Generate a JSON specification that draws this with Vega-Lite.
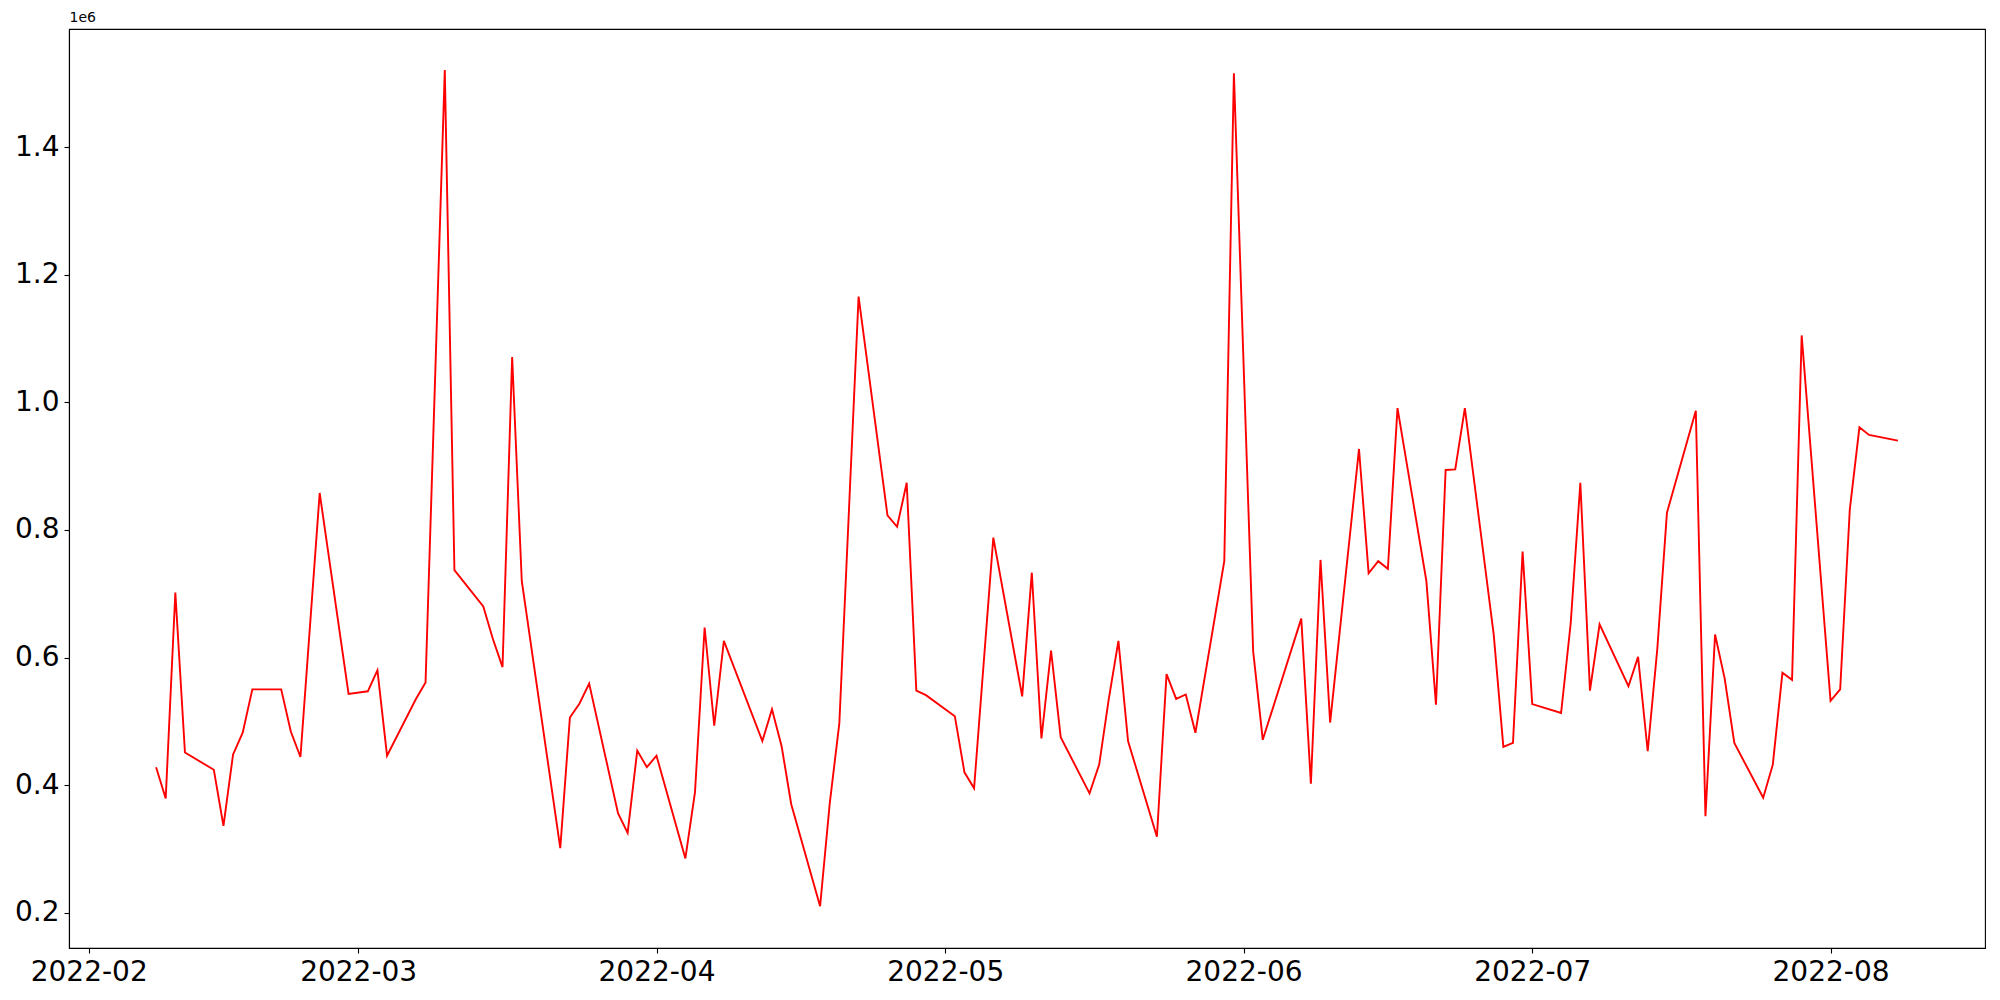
{
  "$schema": "https://vega.github.io/schema/vega-lite/v6.json",
  "width": 1916,
  "height": 919,
  "autosize": {"type": "none"},
  "padding": {"left": 69, "top": 29, "right": 15, "bottom": 52},
  "background": "white",
  "config": {
    "view": {"stroke": "black", "strokeWidth": 1.1},
    "font": "DejaVu Sans",
    "axis": {
      "grid": false,
      "domainColor": "black",
      "domainWidth": 1.1,
      "tickColor": "black",
      "tickWidth": 1.1,
      "tickSize": 5,
      "labelPadding": 5,
      "labelColor": "black",
      "labelFont": "DejaVu Sans",
      "labelFontSize": 28
    }
  },
  "data": {
    "values": [
      {"date": "2022-02-08", "value": 428000},
      {"date": "2022-02-09", "value": 379000},
      {"date": "2022-02-10", "value": 702000},
      {"date": "2022-02-11", "value": 451000},
      {"date": "2022-02-14", "value": 424000},
      {"date": "2022-02-15", "value": 336000},
      {"date": "2022-02-16", "value": 448000},
      {"date": "2022-02-17", "value": 482000},
      {"date": "2022-02-18", "value": 550000},
      {"date": "2022-02-21", "value": 550000},
      {"date": "2022-02-22", "value": 484000},
      {"date": "2022-02-23", "value": 444000},
      {"date": "2022-02-25", "value": 858000},
      {"date": "2022-02-28", "value": 543000},
      {"date": "2022-03-02", "value": 547000},
      {"date": "2022-03-03", "value": 580000},
      {"date": "2022-03-04", "value": 446000},
      {"date": "2022-03-07", "value": 535000},
      {"date": "2022-03-08", "value": 561000},
      {"date": "2022-03-10", "value": 1521000},
      {"date": "2022-03-11", "value": 737000},
      {"date": "2022-03-14", "value": 680000},
      {"date": "2022-03-15", "value": 629000},
      {"date": "2022-03-16", "value": 585000},
      {"date": "2022-03-17", "value": 1071000},
      {"date": "2022-03-18", "value": 720000},
      {"date": "2022-03-22", "value": 301000},
      {"date": "2022-03-23", "value": 506000},
      {"date": "2022-03-24", "value": 528000},
      {"date": "2022-03-25", "value": 559000},
      {"date": "2022-03-28", "value": 356000},
      {"date": "2022-03-29", "value": 325000},
      {"date": "2022-03-30", "value": 454000},
      {"date": "2022-03-31", "value": 428000},
      {"date": "2022-04-01", "value": 446000},
      {"date": "2022-04-04", "value": 285000},
      {"date": "2022-04-05", "value": 389000},
      {"date": "2022-04-06", "value": 647000},
      {"date": "2022-04-07", "value": 493000},
      {"date": "2022-04-08", "value": 626000},
      {"date": "2022-04-12", "value": 469000},
      {"date": "2022-04-13", "value": 519000},
      {"date": "2022-04-14", "value": 461000},
      {"date": "2022-04-15", "value": 370000},
      {"date": "2022-04-18", "value": 210000},
      {"date": "2022-04-19", "value": 371000},
      {"date": "2022-04-20", "value": 497000},
      {"date": "2022-04-22", "value": 1166000},
      {"date": "2022-04-25", "value": 823000},
      {"date": "2022-04-26", "value": 805000},
      {"date": "2022-04-27", "value": 874000},
      {"date": "2022-04-28", "value": 548000},
      {"date": "2022-04-29", "value": 541000},
      {"date": "2022-05-02", "value": 508000},
      {"date": "2022-05-03", "value": 420000},
      {"date": "2022-05-04", "value": 395000},
      {"date": "2022-05-06", "value": 788000},
      {"date": "2022-05-09", "value": 539000},
      {"date": "2022-05-10", "value": 733000},
      {"date": "2022-05-11", "value": 473000},
      {"date": "2022-05-12", "value": 611000},
      {"date": "2022-05-13", "value": 475000},
      {"date": "2022-05-16", "value": 387000},
      {"date": "2022-05-17", "value": 432000},
      {"date": "2022-05-18", "value": 535000},
      {"date": "2022-05-19", "value": 626000},
      {"date": "2022-05-20", "value": 469000},
      {"date": "2022-05-23", "value": 319000},
      {"date": "2022-05-24", "value": 574000},
      {"date": "2022-05-25", "value": 535000},
      {"date": "2022-05-26", "value": 542000},
      {"date": "2022-05-27", "value": 482000},
      {"date": "2022-05-30", "value": 751000},
      {"date": "2022-05-31", "value": 1516000},
      {"date": "2022-06-02", "value": 610000},
      {"date": "2022-06-03", "value": 471000},
      {"date": "2022-06-07", "value": 661000},
      {"date": "2022-06-08", "value": 402000},
      {"date": "2022-06-09", "value": 753000},
      {"date": "2022-06-10", "value": 498000},
      {"date": "2022-06-13", "value": 927000},
      {"date": "2022-06-14", "value": 732000},
      {"date": "2022-06-15", "value": 751000},
      {"date": "2022-06-16", "value": 739000},
      {"date": "2022-06-17", "value": 991000},
      {"date": "2022-06-20", "value": 720000},
      {"date": "2022-06-21", "value": 526000},
      {"date": "2022-06-22", "value": 894000},
      {"date": "2022-06-23", "value": 895000},
      {"date": "2022-06-24", "value": 991000},
      {"date": "2022-06-27", "value": 636000},
      {"date": "2022-06-28", "value": 460000},
      {"date": "2022-06-29", "value": 466000},
      {"date": "2022-06-30", "value": 766000},
      {"date": "2022-07-01", "value": 527000},
      {"date": "2022-07-04", "value": 513000},
      {"date": "2022-07-05", "value": 654000},
      {"date": "2022-07-06", "value": 874000},
      {"date": "2022-07-07", "value": 548000},
      {"date": "2022-07-08", "value": 652000},
      {"date": "2022-07-11", "value": 555000},
      {"date": "2022-07-12", "value": 601000},
      {"date": "2022-07-13", "value": 453000},
      {"date": "2022-07-14", "value": 614000},
      {"date": "2022-07-15", "value": 827000},
      {"date": "2022-07-18", "value": 987000},
      {"date": "2022-07-19", "value": 351000},
      {"date": "2022-07-20", "value": 636000},
      {"date": "2022-07-21", "value": 567000},
      {"date": "2022-07-22", "value": 466000},
      {"date": "2022-07-25", "value": 380000},
      {"date": "2022-07-26", "value": 432000},
      {"date": "2022-07-27", "value": 576000},
      {"date": "2022-07-28", "value": 565000},
      {"date": "2022-07-29", "value": 1105000},
      {"date": "2022-08-01", "value": 532000},
      {"date": "2022-08-02", "value": 550000},
      {"date": "2022-08-03", "value": 832000},
      {"date": "2022-08-04", "value": 961000},
      {"date": "2022-08-05", "value": 949000},
      {"date": "2022-08-08", "value": 940000}
    ]
  },
  "mark": {"type": "line", "color": "red", "strokeWidth": 1.9},
  "encoding": {
    "x": {
      "field": "date",
      "type": "temporal",
      "scale": {
        "type": "utc",
        "domain": [
          {"year": 2022, "month": 1, "date": 29, "hours": 22, "minutes": 48, "utc": true},
          {"year": 2022, "month": 8, "date": 17, "hours": 1, "minutes": 12, "utc": true}
        ],
        "nice": false
      },
      "axis": {
        "title": null,
        "labelExpr": "utcFormat(datum.value, '%Y-%m')",
        "labelAngle": 0,
        "labelAlign": "center",
        "labelBaseline": "top",
        "values": [
          {"year": 2022, "month": 2, "date": 1, "utc": true},
          {"year": 2022, "month": 3, "date": 1, "utc": true},
          {"year": 2022, "month": 4, "date": 1, "utc": true},
          {"year": 2022, "month": 5, "date": 1, "utc": true},
          {"year": 2022, "month": 6, "date": 1, "utc": true},
          {"year": 2022, "month": 7, "date": 1, "utc": true},
          {"year": 2022, "month": 8, "date": 1, "utc": true}
        ]
      }
    },
    "y": {
      "field": "value",
      "type": "quantitative",
      "scale": {"domain": [144500, 1585500], "nice": false, "zero": false},
      "axis": {
        "title": "1e6",
        "titleAngle": 0,
        "titleAlign": "left",
        "titleBaseline": "bottom",
        "titleX": 0,
        "titleY": -5,
        "titleFont": "DejaVu Sans",
        "titleFontSize": 14,
        "titleFontWeight": "normal",
        "titleColor": "black",
        "values": [200000, 400000, 600000, 800000, 1000000, 1200000, 1400000],
        "labelExpr": "format(datum.value / 1000000, '.1f')"
      }
    }
  }
}
